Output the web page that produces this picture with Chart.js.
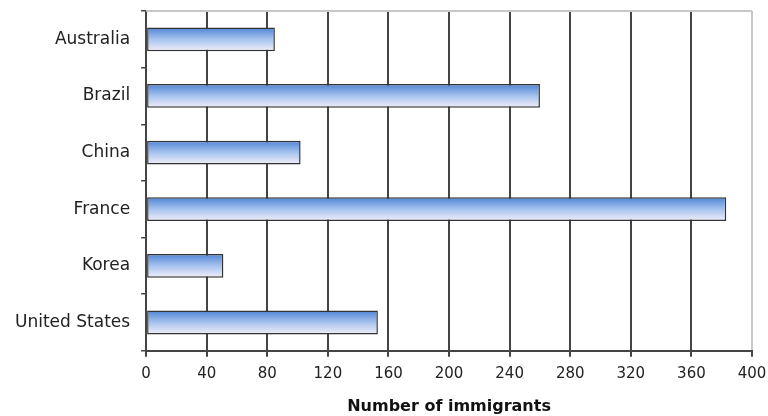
<!DOCTYPE html>
<html>
<head>
<meta charset="utf-8">
<script src="https://cdn.jsdelivr.net/npm/chart.js@4"></script>
<style>
  html, body { margin: 0; padding: 0; background: #fff; }
</style>
</head>
<body>
<canvas id="chart1" width="768" height="416"></canvas>
<script>
const countries = ["Australia", "Brazil", "China", "France", "Korea", "United States"];
const immigrants = [85, 260, 102, 383, 51, 153];
const xTicks = [0, 40, 80, 120, 160, 200, 240, 280, 320, 360, 400];

Chart.defaults.font.family = "'DejaVu Sans', Verdana, sans-serif";
Chart.defaults.color = "#222";

const BAR_PCT = 0.42;

// light frame on top of the plot area
const frame = {
  id: "frame",
  beforeDatasetsDraw(chart) {
    const { ctx, chartArea: a } = chart;
    ctx.save();
    ctx.strokeStyle = "#c8c8c8";
    ctx.lineWidth = 2;
    ctx.beginPath();
    ctx.moveTo(a.left, a.top);
    ctx.lineTo(a.right, a.top);
    ctx.stroke();
    ctx.restore();
  },
};

// vertical gradient per bar, blue at the top fading to near white
function barFill(c) {
  const chart = c.chart;
  const y = chart.scales && chart.scales.y;
  if (!chart.chartArea || !y || c.dataIndex == null) return "#8fb4e8";
  const mid = y.getPixelForValue(c.dataIndex);
  const half = (y.height / countries.length) * BAR_PCT / 2;
  const g = chart.ctx.createLinearGradient(0, mid - half, 0, mid + half);
  g.addColorStop(0, "#4f84d6");
  g.addColorStop(0.5, "#a6c3ee");
  g.addColorStop(1, "#f3eff8");
  return g;
}

// drop the label overhang so the layout padding alone sets the plot edges
function noOverhang(scale) {
  scale.paddingTop = 0;
  scale.paddingBottom = 0;
  scale.paddingLeft = 0;
  scale.paddingRight = 0;
}

const ctx = document.getElementById("chart1");
const chart = new Chart(ctx, {
  type: "bar",
  data: {
    labels: countries,
    datasets: [{
      data: immigrants,
      backgroundColor: barFill,
      borderColor: "#333",
      borderWidth: 1.5,
      borderSkipped: false,
      categoryPercentage: 1,
      barPercentage: BAR_PCT,
    }],
  },
  options: {
    indexAxis: "y",
    responsive: false,
    animation: false,
    layout: { padding: { top: 11, right: 16, left: 4, bottom: 0 } },
    plugins: { legend: { display: false }, tooltip: { enabled: false } },
    scales: {
      x: {
        min: 0,
        max: 400,
        afterBuildTicks(axis) { axis.ticks = xTicks.map(v => ({ value: v })); },
        afterFit: noOverhang,
        grid: {
          color: (c) => (c.index === xTicks.length - 1 ? "#c8c8c8" : "#444"),
          lineWidth: 2,
          tickLength: 6,
          tickColor: "#444",
        },
        border: { color: "#444", width: 2 },
        ticks: { padding: 8, color: "#222", font: { size: 15 } },
        title: {
          display: true,
          text: "Number of immigrants",
          font: { weight: "bold", size: 16 },
          color: "#111",
          padding: { top: 6, bottom: 0 },
        },
      },
      y: {
        afterFit: noOverhang,
        grid: {
          offset: true,
          drawOnChartArea: false,
          tickLength: 5,
          color: "#444",
          lineWidth: 1.5,
        },
        border: { color: "#444", width: 2 },
        ticks: { padding: 11, color: "#222", font: { size: 17 } },
      },
    },
  },
  plugins: [frame],
});
</script>
</body>
</html>
